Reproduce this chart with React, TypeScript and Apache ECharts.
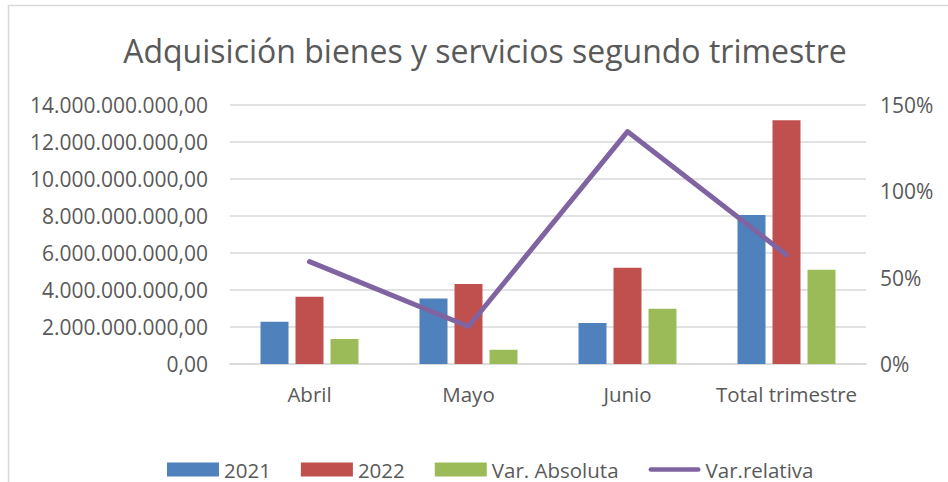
import React, { useEffect, useRef } from "react";
import * as echarts from "echarts";

const categories = ["Abril", "Mayo", "Junio", "Total trimestre"];
const values2021 = [2.28e9, 3.54e9, 2.21e9, 8.05e9];
const values2022 = [3.63e9, 4.32e9, 5.2e9, 13.17e9];
const varAbsoluta = [1.35e9, 0.77e9, 2.99e9, 5.1e9];
const varRelativa = [59.3, 21.7, 134.6, 63.2];
const titleText = "Adquisición bienes y servicios segundo trimestre";
const seriesNames = ["2021", "2022", "Var. Absoluta", "Var.relativa"];

const FONT = "'Open Sans', Lato, sans-serif";
const TEXT = "#595959";
const GRID = "#d9d9d9";
const LINE_ICON =
  "path://M0,0M56,14M2.5,4.5L53.5,4.5A2.5,2.5,0,0,1,53.5,9.5L2.5,9.5A2.5,2.5,0,0,1,2.5,4.5Z";

function fmt(v: number): string {
  const s = Math.round(v).toString().replace(/\B(?=(\d{3})+(?!\d))/g, ".");
  return s + ",00";
}

export default function App() {
  const ref = useRef<HTMLDivElement>(null);
  useEffect(() => {
    if (!ref.current) return;
    const chart = echarts.init(ref.current, null, { renderer: "svg" });
    chart.setOption({
      animation: false,
      backgroundColor: "#ffffff",
      textStyle: { fontFamily: FONT },
      graphic: [
        {
          type: "rect",
          shape: { x: 8.5, y: 5.5, width: 1000, height: 1000 },
          style: { fill: "none", stroke: GRID, lineWidth: 1.5 },
          silent: true,
        },
        {
          type: "text",
          x: 485,
          y: 50,
          style: {
            text: titleText,
            fill: TEXT,
            font: `32px ${FONT}`,
            textAlign: "center",
            textVerticalAlign: "middle",
          },
        },
      ],
      legend: {
        left: 162,
        top: 454,
        itemWidth: 52,
        itemHeight: 14,
        itemGap: 30,
        textStyle: { fontSize: 20.5, color: TEXT, fontFamily: FONT },
        data: seriesNames.map((n, i) =>
          i < 3
            ? { name: n, icon: "rect" }
            : { name: n, icon: LINE_ICON, itemStyle: { color: "#8064a2" } }
        ),
      },
      grid: { left: 230, right: 82, top: 105, bottom: 118, containLabel: false },
      xAxis: {
        type: "category",
        data: categories,
        axisLine: { lineStyle: { color: GRID, width: 1.5 } },
        axisTick: { show: false },
        axisLabel: {
          color: TEXT,
          fontSize: 20.5,
          margin: 19,
          interval: 0,
          fontFamily: FONT,
        },
      },
      yAxis: [
        {
          type: "value",
          min: 0,
          max: 14e9,
          interval: 2e9,
          axisLine: { show: false },
          axisTick: { show: false },
          splitLine: { lineStyle: { color: GRID, width: 1.5 } },
          axisLabel: {
            color: TEXT,
            fontSize: 21,
            margin: 22,
            fontFamily: FONT,
            formatter: (v: number) => fmt(v),
          },
        },
        {
          type: "value",
          min: 0,
          max: 150,
          interval: 50,
          axisLine: { show: false },
          axisTick: { show: false },
          splitLine: { show: false },
          axisLabel: {
            color: TEXT,
            fontSize: 21,
            margin: 14,
            fontFamily: FONT,
            formatter: (v: number) => v + "%",
          },
        },
      ],
      series: [
        {
          name: seriesNames[0],
          type: "bar",
          data: values2021,
          barWidth: 28,
          barGap: "25%",
          itemStyle: { color: "#4f81bd" },
        },
        {
          name: seriesNames[1],
          type: "bar",
          data: values2022,
          barWidth: 28,
          barGap: "25%",
          itemStyle: { color: "#c0504d" },
        },
        {
          name: seriesNames[2],
          type: "bar",
          data: varAbsoluta,
          barWidth: 28,
          barGap: "25%",
          itemStyle: { color: "#9bbb59" },
        },
        {
          name: seriesNames[3],
          type: "line",
          yAxisIndex: 1,
          data: varRelativa,
          symbol: "none",
          showSymbol: false,
          z: 5,
          lineStyle: { color: "#8064a2", width: 5, cap: "round", join: "round" },
          itemStyle: { color: "#8064a2" },
        },
      ],
    });
    return () => chart.dispose();
  }, []);
  return (
    <div
      ref={ref}
      style={{ position: "fixed", left: 0, top: 0, width: 948, height: 482 }}
    />
  );
}
